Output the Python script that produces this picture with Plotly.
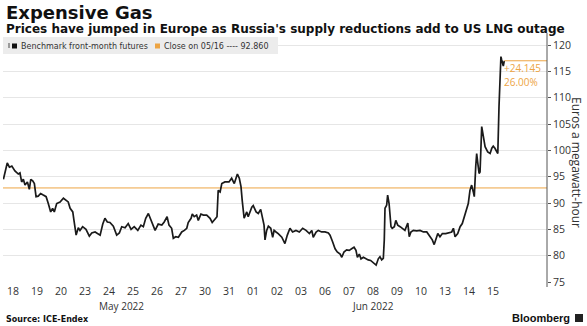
import plotly.graph_objects as go

# Trading-day labels along the x axis (one slot per session)
day_labels = ["18", "19", "20", "23", "24", "25", "26", "27", "30", "31",
              "01", "02", "03", "06", "07", "08", "09", "10", "13", "14", "15"]
month_labels = ["May 2022", "Jun 2022"]
month_days = [list(range(0, 10)), list(range(10, 21))]

# Intraday position, measured in trading sessions from 18 May
session_pos = [
    -0.40, -0.24, -0.15, -0.05, 0.08, 0.22, 0.29, 0.36, 0.43, 0.50, 0.60, 0.68, 0.74, 0.82, 0.89, 0.96,
    1.05, 1.15, 1.26, 1.38, 1.47, 1.57, 1.65, 1.72, 1.82, 1.96, 2.10, 2.21, 2.30, 2.38, 2.49, 2.54,
    2.63, 2.72, 2.79, 2.90, 3.04, 3.18, 3.28, 3.42, 3.55, 3.63, 3.74, 3.83, 3.93, 4.04, 4.18, 4.32,
    4.43, 4.53, 4.67, 4.80, 4.92, 5.05, 5.20, 5.33, 5.43, 5.53, 5.64, 5.75, 5.85, 5.92, 6.05, 6.20,
    6.30, 6.42, 6.50, 6.61, 6.68, 6.78, 6.89, 7.03, 7.14, 7.24, 7.30, 7.42, 7.47, 7.55, 7.65, 7.72,
    7.83, 7.93, 8.07, 8.21, 8.30, 8.42, 8.50, 8.55, 8.63, 8.70, 8.83, 9.00, 9.11, 9.22, 9.35, 9.43,
    9.50, 9.55, 9.63, 9.74, 9.80, 9.95, 10.01, 10.13, 10.22, 10.32, 10.40, 10.46, 10.50, 10.57, 10.64,
    10.74, 10.82, 10.88, 10.96, 11.05, 11.20, 11.33, 11.43, 11.54, 11.65, 11.79, 11.93, 12.07, 12.21,
    12.35, 12.45, 12.51, 12.63, 12.72, 12.86, 13.00, 13.14, 13.21, 13.32, 13.42, 13.51, 13.63, 13.70,
    13.79, 13.90, 14.01, 14.11, 14.21, 14.29, 14.35, 14.43, 14.50, 14.60, 14.71, 14.80, 14.90, 15.01,
    15.13, 15.22, 15.29, 15.36, 15.43, 15.47, 15.50, 15.57, 15.61, 15.67, 15.75, 15.80, 15.89, 15.95,
    16.03, 16.13, 16.22, 16.33, 16.45, 16.51, 16.58, 16.68, 16.82, 16.96, 17.10, 17.24, 17.38, 17.47,
    17.55, 17.63, 17.70, 17.79, 17.89, 18.03, 18.17, 18.28, 18.35, 18.42, 18.53, 18.63, 18.72, 18.80,
    18.90, 18.97, 19.04, 19.11, 19.18, 19.22, 19.28, 19.32, 19.36, 19.42, 19.46, 19.50, 19.53, 19.60,
    19.67, 19.78, 19.88, 19.95, 20.01, 20.08, 20.20, 20.25, 20.29, 20.33, 20.36, 20.43, 20.47,
]

# Benchmark front-month futures, euros per megawatt-hour
price = [
    94.5, 97.6, 96.8, 97.0, 96.1, 95.5, 95.7, 94.0, 94.5, 93.4, 94.0, 92.6, 94.5, 94.2, 93.7, 91.2,
    91.3, 91.8, 91.5, 91.2, 89.9, 88.3, 89.0, 88.3, 89.9, 90.2, 90.9, 90.5, 90.2, 89.0, 88.3, 86.7,
    83.9, 85.3, 84.8, 85.5, 85.0, 83.7, 84.3, 84.5, 84.2, 83.9, 86.0, 87.1, 86.4, 86.3, 85.6, 83.9,
    84.3, 85.5, 85.3, 86.1, 85.0, 85.5, 84.8, 85.8, 85.5, 87.1, 88.0, 86.7, 85.8, 84.8, 86.0, 85.8,
    86.4, 87.4, 85.8, 85.2, 83.3, 83.6, 83.5, 84.5, 84.8, 85.2, 86.3, 87.1, 87.9, 87.4, 87.7, 86.7,
    87.9, 87.7, 87.7, 87.1, 86.3, 87.1, 87.4, 92.4, 92.1, 93.7, 94.0, 94.0, 94.7, 93.7, 95.5, 94.7,
    93.1, 90.5, 87.1, 88.3, 87.4, 89.2, 89.5, 88.3, 88.0, 88.8, 86.7, 85.8, 83.0, 84.8, 85.6,
    85.2, 83.5, 84.8, 84.5, 84.2, 83.5, 82.3, 83.9, 85.2, 84.5, 84.8, 84.5, 85.2, 84.8,
    84.2, 84.8, 83.5, 84.5, 84.8, 84.5, 84.5, 84.3, 83.9, 82.6, 81.3, 80.7, 80.3, 79.7,
    80.7, 81.1, 81.0, 81.3, 81.6, 81.0, 79.7, 80.3, 79.4, 79.7, 79.4, 79.2, 79.1, 78.6,
    78.2, 79.4, 79.8, 79.2, 79.5, 83.0, 89.0, 89.6, 91.5, 89.9, 85.5, 85.2, 85.5, 86.7,
    85.8, 85.5, 85.2, 84.8, 86.2, 83.6, 84.5, 84.8, 84.7, 84.8, 84.5, 84.5, 83.6, 83.0,
    82.1, 83.3, 84.2, 83.6, 84.2, 84.2, 84.3, 84.5, 85.2, 83.6, 84.2, 85.5, 86.1, 87.4,
    88.7, 89.9, 92.4, 93.4, 92.1, 91.2, 96.9, 99.4, 97.8, 95.6, 95.9, 100.0, 104.5, 102.6,
    100.7, 99.7, 99.4, 100.4, 100.8, 100.4, 99.4, 108.3, 114.6, 117.8, 117.2, 116.0, 117.005,
]

close_0516 = 92.860
y_ticks = [75, 80, 85, 90, 95, 100, 105, 110, 115, 120]

W, H = 587, 326
M_L, M_R, M_T, M_B = 3, 40, 38, 44
ORANGE = "#eda443"
TEXT = "#333333"


def px(x):
    return (x - M_L) / (W - M_L - M_R)


def py(y):
    return (H - M_B - y) / (H - M_T - M_B)


last = price[-1]
change = last - close_0516
pct = change / close_0516 * 100

fig = go.Figure()
fig.add_trace(go.Scatter(
    x=session_pos, y=price, mode="lines",
    line=dict(color="#1a1a1a", width=1.7), hoverinfo="skip", showlegend=False,
))

shapes = [
    # reference close level
    dict(type="line", xref="paper", yref="y", x0=0, x1=1, y0=close_0516, y1=close_0516,
         line=dict(color=ORANGE, width=1), layer="below"),
    # marker from last price to the axis
    dict(type="line", xref="x", yref="y", x0=session_pos[-1], x1=22.25, y0=last, y1=last,
         line=dict(color=ORANGE, width=1)),
    # right axis line
    dict(type="line", xref="paper", yref="paper", x0=1, x1=1, y0=py(287), y1=py(33),
         line=dict(color="#555555", width=1)),
    # legend strip
    dict(type="rect", xref="paper", yref="paper", x0=px(3), x1=px(278), y0=py(54), y1=py(37),
         fillcolor="#ececec", line=dict(width=0), layer="above"),
    dict(type="rect", xref="paper", yref="paper", x0=px(8), x1=px(10), y0=py(48), y1=py(43),
         fillcolor="#9a9a9a", line=dict(width=0), layer="above"),
    dict(type="rect", xref="paper", yref="paper", x0=px(12), x1=px(17), y0=py(48.5), y1=py(43.5),
         fillcolor="#111111", line=dict(width=0), layer="above"),
    dict(type="rect", xref="paper", yref="paper", x0=px(155), x1=px(160), y0=py(48.5), y1=py(43.5),
         fillcolor=ORANGE, line=dict(width=0), layer="above"),
    # Bloomberg mark
    dict(type="rect", xref="paper", yref="paper", x0=px(575), x1=px(583), y0=py(322), y1=py(314),
         fillcolor="#222222", line=dict(width=0), layer="above"),
]

annotations = [
    dict(text="<b>Expensive Gas</b>", xref="paper", yref="paper", x=px(4), y=py(12),
         xanchor="left", yanchor="middle", showarrow=False,
         font=dict(family="DejaVu Sans", size=18, color="#111111")),
    dict(text="<b>Prices have jumped in Europe as Russia's supply reductions add to US LNG outage</b>",
         xref="paper", yref="paper", x=px(4), y=py(29), xanchor="left", yanchor="middle",
         showarrow=False, font=dict(family="DejaVu Sans", size=12, color="#111111")),
    dict(text="Benchmark front-month futures", xref="paper", yref="paper", x=px(19), y=py(46),
         xanchor="left", yanchor="middle", showarrow=False,
         font=dict(family="DejaVu Sans", size=8, color=TEXT)),
    dict(text=f"Close on 05/16 ---- {close_0516:.3f}", xref="paper", yref="paper", x=px(162), y=py(46),
         xanchor="left", yanchor="middle", showarrow=False,
         font=dict(family="DejaVu Sans", size=8, color=TEXT)),
    dict(text=f"+{change:.3f}", xref="paper", yref="paper", x=px(502), y=py(68),
         xanchor="left", yanchor="middle", showarrow=False,
         font=dict(family="Open Sans", size=10, color=ORANGE)),
    dict(text=f"{pct:.2f}%", xref="paper", yref="paper", x=px(502), y=py(82),
         xanchor="left", yanchor="middle", showarrow=False,
         font=dict(family="Open Sans", size=10, color=ORANGE)),
    dict(text="Euros a megawatt-hour", xref="paper", yref="paper", x=px(577), y=py(162),
         xanchor="center", yanchor="middle", textangle=90, showarrow=False,
         font=dict(family="Open Sans", size=12, color=TEXT)),
    dict(text="<b>Source: ICE-Endex</b>", xref="paper", yref="paper", x=px(4), y=py(319),
         xanchor="left", yanchor="middle", showarrow=False,
         font=dict(family="DejaVu Sans", size=8, color="#111111")),
    dict(text="<b>Bloomberg</b>", xref="paper", yref="paper", x=px(572), y=py(318),
         xanchor="right", yanchor="middle", showarrow=False,
         font=dict(family="Liberation Sans", size=11, color="#111111")),
]
for label, days in zip(month_labels, month_days):
    annotations.append(dict(
        text=label, xref="x", yref="paper", x=sum(days) / len(days), y=py(306),
        xanchor="center", yanchor="middle", showarrow=False,
        font=dict(family="Open Sans", size=10, color=TEXT)))

fig.update_layout(
    width=W, height=H,
    margin=dict(l=M_L, r=M_R, t=M_T, b=M_B, pad=0),
    paper_bgcolor="white", plot_bgcolor="white",
    shapes=shapes, annotations=annotations,
    xaxis=dict(
        range=[-0.417, 22.25], tickmode="array",
        tickvals=list(range(len(day_labels))), ticktext=day_labels,
        showgrid=False, zeroline=False, showline=False, ticks="",
        ticklabelstandoff=1,
        tickfont=dict(family="Open Sans", size=10.5, color=TEXT),
        fixedrange=True,
    ),
    yaxis=dict(
        side="right", range=[75, 121.33], tickmode="array", tickvals=y_ticks,
        showgrid=True, gridcolor="#e6e6e6", gridwidth=1, zeroline=False,
        showline=False, ticks="outside", ticklen=3, tickcolor="#555555",
        tickfont=dict(family="Open Sans", size=10.5, color=TEXT),
        fixedrange=True,
    ),
)

fig.write_html("out.html")
